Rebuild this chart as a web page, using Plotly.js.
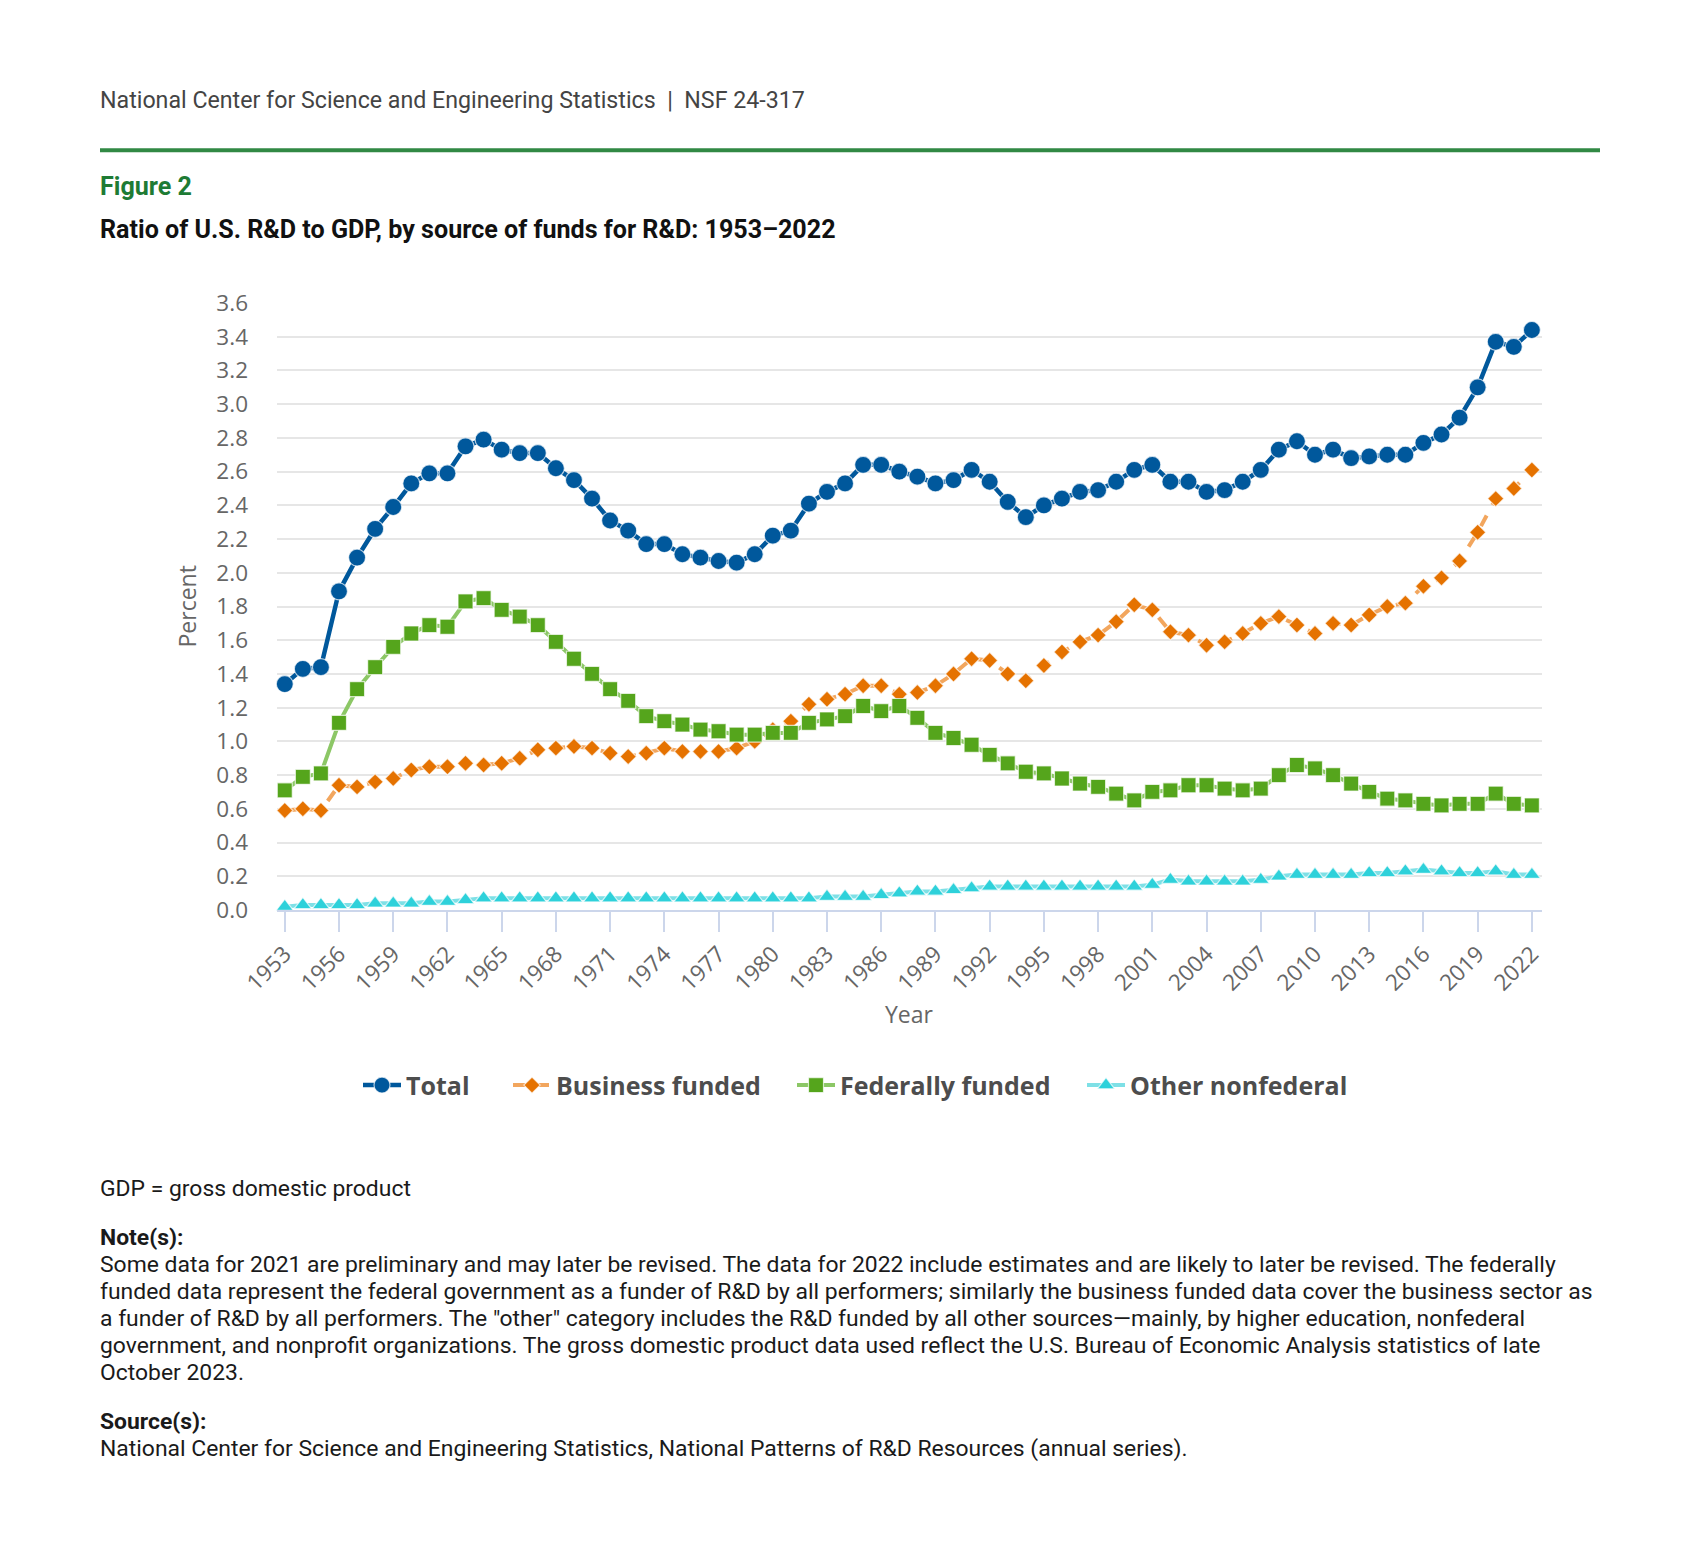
<!DOCTYPE html>
<html>
<head>
<meta charset="utf-8">
<script src="https://cdn.plot.ly/plotly-3.0.1.min.js"></script>
<style>
  html, body { margin: 0; padding: 0; background: #ffffff; }
  #chart { width: 1699px; height: 1567px; }
</style>
</head>
<body>
<div id="chart"></div>
<script>
// ---------------- DATA ----------------
const years = [1953,1954,1955,1956,1957,1958,1959,1960,1961,1962,1963,1964,1965,1966,1967,1968,1969,1970,
  1971,1972,1973,1974,1975,1976,1977,1978,1979,1980,1981,1982,1983,1984,1985,1986,1987,1988,1989,1990,
  1991,1992,1993,1994,1995,1996,1997,1998,1999,2000,2001,2002,2003,2004,2005,2006,2007,2008,2009,2010,
  2011,2012,2013,2014,2015,2016,2017,2018,2019,2020,2021,2022];

const totalPct = [1.34,1.43,1.44,1.89,2.09,2.26,2.39,2.53,2.59,2.59,2.75,2.79,2.73,2.71,2.71,2.62,2.55,2.44,
  2.31,2.25,2.17,2.17,2.11,2.09,2.07,2.06,2.11,2.22,2.25,2.41,2.48,2.53,2.64,2.64,2.60,2.57,2.53,2.55,
  2.61,2.54,2.42,2.33,2.40,2.44,2.48,2.49,2.54,2.61,2.64,2.54,2.54,2.48,2.49,2.54,2.61,2.73,2.78,2.70,
  2.73,2.68,2.69,2.70,2.70,2.77,2.82,2.92,3.10,3.37,3.34,3.44];

const businessPct = [0.59,0.60,0.59,0.74,0.73,0.76,0.78,0.83,0.85,0.85,0.87,0.86,0.87,0.90,0.95,0.96,0.97,0.96,
  0.93,0.91,0.93,0.96,0.94,0.94,0.94,0.96,1.00,1.07,1.12,1.22,1.25,1.28,1.33,1.33,1.28,1.29,1.33,1.40,
  1.49,1.48,1.40,1.36,1.45,1.53,1.59,1.63,1.71,1.81,1.78,1.65,1.63,1.57,1.59,1.64,1.70,1.74,1.69,1.64,
  1.70,1.69,1.75,1.80,1.82,1.92,1.97,2.07,2.24,2.44,2.50,2.61];

const federalPct = [0.71,0.79,0.81,1.11,1.31,1.44,1.56,1.64,1.69,1.68,1.83,1.85,1.78,1.74,1.69,1.59,1.49,1.40,
  1.31,1.24,1.15,1.12,1.10,1.07,1.06,1.04,1.04,1.05,1.05,1.11,1.13,1.15,1.21,1.18,1.21,1.14,1.05,1.02,
  0.98,0.92,0.87,0.82,0.81,0.78,0.75,0.73,0.69,0.65,0.70,0.71,0.74,0.74,0.72,0.71,0.72,0.80,0.86,0.84,
  0.80,0.75,0.70,0.66,0.65,0.63,0.62,0.63,0.63,0.69,0.63,0.62];

const otherPct = [0.02,0.03,0.03,0.03,0.03,0.04,0.04,0.04,0.05,0.05,0.06,0.07,0.07,0.07,0.07,0.07,0.07,0.07,
  0.07,0.07,0.07,0.07,0.07,0.07,0.07,0.07,0.07,0.07,0.07,0.07,0.08,0.08,0.08,0.09,0.10,0.11,0.11,0.12,
  0.13,0.14,0.14,0.14,0.14,0.14,0.14,0.14,0.14,0.14,0.15,0.18,0.17,0.17,0.17,0.17,0.18,0.20,0.21,0.21,
  0.21,0.21,0.22,0.22,0.23,0.24,0.23,0.22,0.22,0.23,0.21,0.21];

const xTickYears = [1953,1956,1959,1962,1965,1968,1971,1974,1977,1980,1983,1986,1989,1992,1995,1998,
  2001,2004,2007,2010,2013,2016,2019,2022];
const yTickVals = [0,0.2,0.4,0.6,0.8,1.0,1.2,1.4,1.6,1.8,2.0,2.2,2.4,2.6,2.8,3.0,3.2,3.4,3.6];

const seriesNames = ['Total','Business funded','Federally funded','Other nonfederal'];

const headerText = 'National Center for Science and Engineering Statistics&nbsp;&nbsp;|&nbsp;&nbsp;NSF 24-317';
const figureLabel = 'Figure 2';
const chartTitle = 'Ratio of U.S. R&D to GDP, by source of funds for R&D: 1953–2022';
const abbrevText = 'GDP = gross domestic product';
const noteLines = [
  'Some data for 2021 are preliminary and may later be revised. The data for 2022 include estimates and are likely to later be revised. The federally',
  'funded data represent the federal government as a funder of R&D by all performers; similarly the business funded data cover the business sector as',
  'a funder of R&D by all performers. The "other" category includes the R&D funded by all other sources—mainly, by higher education, nonfederal',
  'government, and nonprofit organizations. The gross domestic product data used reflect the U.S. Bureau of Economic Analysis statistics of late',
  'October 2023.'
];
const sourceText = 'National Center for Science and Engineering Statistics, National Patterns of R&D Resources (annual series).';

// ---------------- LAYOUT GEOMETRY ----------------
const W = 1699, H = 1567;
const M = {l: 277, r: 157, t: 303, b: 656.5};
const plotW = W - M.l - M.r, plotH = H - M.t - M.b;
const px = x => (x - M.l) / plotW;
const py = y => (H - M.b - y) / plotH;

const tickFont = {family: 'Open Sans', size: 22.5, color: '#666666'};
const roboto = 'Roboto';

function mkTrace(y, name, lineColor, dash, width, markerColor, symbol, size, legendId) {
  return {
    x: years, y: y, name: name, type: 'scatter', mode: 'lines+markers',
    line: {color: lineColor, width: width, dash: dash},
    marker: {color: markerColor, symbol: symbol, size: size, line: {color: 'rgba(255,255,255,0.7)', width: 1.2}},
    cliponaxis: false, legend: legendId, hoverinfo: 'skip'
  };
}

const traces = [
  mkTrace(totalPct, seriesNames[0], '#00589C', 'solid', 4.5, '#00589C', 'circle', 17, 'legend'),
  mkTrace(businessPct, seriesNames[1], '#F2A65E', 'dash', 4, '#E57200', 'diamond', 12.5, 'legend2'),
  mkTrace(federalPct, seriesNames[2], '#8CC766', 'solid', 4, '#55A51C', 'square', 15, 'legend3'),
  mkTrace(otherPct, seriesNames[3], '#7EE0E6', 'solid', 4, '#2ED1DA', 'triangle-up', 15, 'legend4')
];

const legendFont = {family: 'Open Sans', size: 25, color: '#4d4d4d', weight: 700};
function mkLegend(xpix) {
  return {orientation: 'h', x: px(xpix), xanchor: 'left', y: py(1086), yanchor: 'middle', itemwidth: 38,
    font: legendFont, bgcolor: 'rgba(0,0,0,0)', borderwidth: 0, itemclick: false, itemdoubleclick: false};
}

function textAnn(xpix, ypix, text, font, extra) {
  return Object.assign({xref: 'paper', yref: 'paper', x: px(xpix), y: py(ypix), text: text,
    showarrow: false, xanchor: 'left', yanchor: 'middle', align: 'left', font: font}, extra || {});
}

const noteFont = {family: roboto, size: 22.9, color: '#1a1a1a'};
const annotations = [
  textAnn(98, 100, headerText, {family: roboto, size: 23.2, color: '#444444'}),
  textAnn(98, 186, '<b>' + figureLabel + '</b>', {family: roboto, size: 25.1, color: '#1E7B34'}),
  textAnn(98, 229, '<b>' + chartTitle + '</b>', {family: roboto, size: 25.1, color: '#111111'}),
  textAnn(909.5, 1015, 'Year', {family: 'Open Sans', size: 23, color: '#666666'}, {xanchor: 'center'}),
  textAnn(186, 606.75, 'Percent', {family: 'Open Sans', size: 23, color: '#666666'}, {xanchor: 'center', textangle: -90}),
  textAnn(98, 1189, abbrevText, noteFont),
  textAnn(98, 1238, '<b>Note(s):</b>', noteFont)
];
noteLines.forEach((t, i) => annotations.push(textAnn(98, 1265 + i * 27.1, t, noteFont)));
annotations.push(textAnn(98, 1422, '<b>Source(s):</b>', noteFont));
annotations.push(textAnn(98, 1449, sourceText, noteFont));

const layout = {
  width: W, height: H,
  margin: M,
  paper_bgcolor: '#ffffff', plot_bgcolor: '#ffffff',
  showlegend: true,
  hovermode: false,
  xaxis: {
    range: [1952.57, 2022.56], tickmode: 'array', tickvals: xTickYears, ticktext: xTickYears.map(String),
    tickangle: -45, ticks: 'outside', ticklen: 20, tickwidth: 2, tickcolor: '#ccd6eb',
    showgrid: false, showline: true, linecolor: '#ccd6eb', linewidth: 2, zeroline: false,
    tickfont: tickFont, fixedrange: true
  },
  yaxis: {
    range: [0, 3.6], tickmode: 'array', tickvals: yTickVals, ticktext: yTickVals.map(v => v.toFixed(1)),
    showgrid: true, gridcolor: '#e6e6e6', gridwidth: 2, zeroline: false, showline: false,
    ticks: '', ticklabelstandoff: 28, tickfont: tickFont, fixedrange: true
  },
  legend: mkLegend(358), legend2: mkLegend(508), legend3: mkLegend(792), legend4: mkLegend(1082),
  shapes: [{type: 'line', xref: 'paper', yref: 'paper', x0: px(100), x1: px(1600), y0: py(150), y1: py(150),
    line: {color: '#318944', width: 4}}],
  annotations: annotations
};

Plotly.newPlot('chart', traces, layout, {displayModeBar: false, staticPlot: true});
</script>
</body>
</html>
